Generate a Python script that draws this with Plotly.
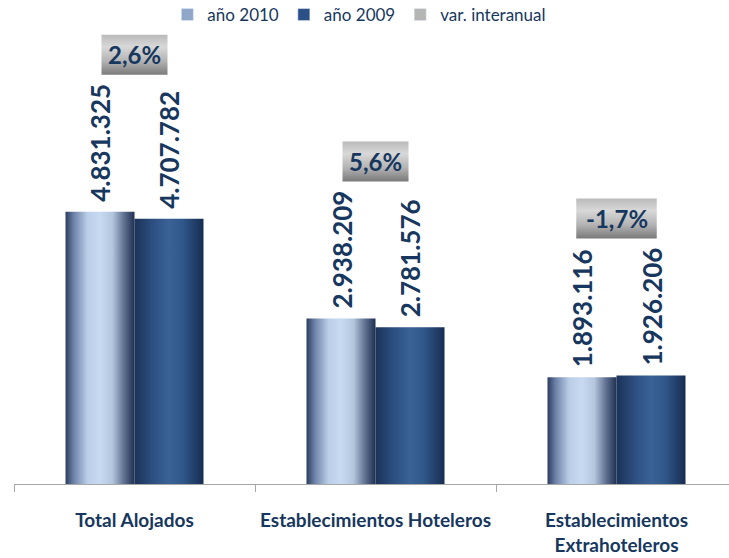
import plotly.graph_objects as go

# ---- data ----
categories = ["Total Alojados", "Establecimientos Hoteleros", "Establecimientos<br>Extrahoteleros"]
values_2010 = [4831325, 2938209, 1893116]
values_2009 = [4707782, 2781576, 1926206]
variation = ["2,6%", "5,6%", "-1,7%"]
series_names = ["año 2010", "año 2009", "var. interanual"]


def fmt(v):
    return f"{v:,}".replace(",", ".")


# ---- layout constants ----
W, H = 729, 558
M_L, M_R, M_T, M_B = 14, 0, 30, 74
PLOT_W = W - M_L - M_R
PLOT_H = H - M_T - M_B
X_MIN = -0.5
PX_PER_CAT = 241
X_MAX = X_MIN + PLOT_W / PX_PER_CAT
Y_MAX = 8.06e6
PX_PER_Y = PLOT_H / Y_MAX
BAR_W = 69 / PX_PER_CAT

TEXT_COLOR = "#17375e"
FONT = "Lato"

grad_2010 = [[0, "#2b3d60"], [0.12, "#6e83a8"], [0.32, "#bccfe9"], [0.5, "#c8daf1"],
             [0.68, "#b4c6de"], [0.85, "#5e6f90"], [1, "#1f3050"]]
grad_2009 = [[0, "#1b3358"], [0.3, "#2f5285"], [0.5, "#3a6296"], [0.7, "#30578a"], [1, "#172d52"]]
grad_box = [[0, "#7a7a7a"], [0.35, "#b4b4b4"], [0.7, "#d8d8d8"], [1, "#bababa"]]

fig = go.Figure()

# legend entries
legend_colors = ["#8fa6c9", "#2b5087", "#b5b5b5"]
for name, col in zip(series_names, legend_colors):
    fig.add_trace(go.Bar(x=[None], y=[None], name=name, marker_color=col, showlegend=True))

annotations = []
for i, cat in enumerate(categories):
    for j, (vals, grad) in enumerate([(values_2010, grad_2010), (values_2009, grad_2009)]):
        v = vals[i]
        x0 = i - BAR_W if j == 0 else i
        x1 = x0 + BAR_W
        fig.add_trace(go.Scatter(
            x=[x0, x0, x1, x1, x0], y=[0, v, v, 0, 0],
            fill="toself", mode="lines", line=dict(width=0, color="rgba(0,0,0,0)"),
            fillgradient=dict(type="horizontal", colorscale=grad),
            hoverinfo="skip", showlegend=False))
        annotations.append(dict(
            x=(x0 + x1) / 2, y=v, xref="x", yref="y", text=f"<b>{fmt(v)}</b>",
            textangle=-90, showarrow=False, xanchor="center", yanchor="bottom",
            yshift=8, font=dict(family=FONT, size=26, color=TEXT_COLOR)))
    # variation box
    vmax = max(values_2010[i], values_2009[i])
    txt = variation[i]
    w_px = 14.5 * len(txt) + 8
    bx0 = i - w_px / 2 / PX_PER_CAT
    bx1 = i + w_px / 2 / PX_PER_CAT
    by0 = vmax + 137 / PX_PER_Y
    by1 = by0 + 40 / PX_PER_Y
    fig.add_trace(go.Scatter(
        x=[bx0, bx0, bx1, bx1, bx0], y=[by0, by1, by1, by0, by0],
        fill="toself", mode="lines", line=dict(width=0, color="rgba(0,0,0,0)"),
        fillgradient=dict(type="vertical", colorscale=grad_box),
        hoverinfo="skip", showlegend=False))
    annotations.append(dict(
        x=i, y=(by0 + by1) / 2, xref="x", yref="y", text=f"<b>{txt}</b>",
        showarrow=False, xanchor="center", yanchor="middle",
        font=dict(family=FONT, size=24, color=TEXT_COLOR)))

fig.update_layout(
    width=W, height=H,
    margin=dict(l=M_L, r=M_R, t=M_T, b=M_B, autoexpand=False),
    paper_bgcolor="white", plot_bgcolor="white",
    showlegend=True,
    legend=dict(orientation="h", x=0.483, xanchor="center", y=1 + 15 / PLOT_H, yanchor="middle",
                font=dict(family=FONT, size=17, color=TEXT_COLOR),
                itemwidth=30),
    annotations=annotations,
    xaxis=dict(range=[X_MIN, X_MAX], tickvals=[0, 1, 2],
               ticktext=[f"<b>{c}</b>" for c in categories],
               ticks="", showgrid=False, zeroline=False, automargin=False,
               showline=True, linecolor="#a6a6a6", linewidth=1,
               ticklabelstandoff=19,
               tickfont=dict(family=FONT, size=19, color=TEXT_COLOR),
               minor=dict(tickvals=[-0.5, 0.5, 1.5, 2.5], ticks="outside", ticklen=7,
                          tickcolor="#a6a6a6", tickwidth=1, showgrid=False)),
    yaxis=dict(range=[0, Y_MAX], visible=False, showgrid=False, zeroline=False, automargin=False),
)

fig.write_html("out.html", config={"displayModeBar": False},
               post_script="document.body.style.margin='0';")
